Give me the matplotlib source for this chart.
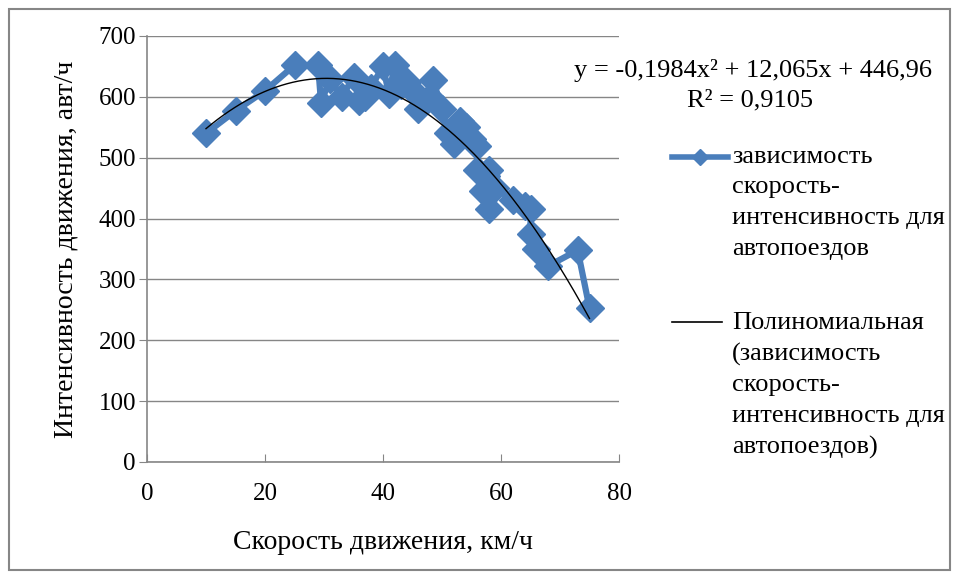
import numpy as np
import matplotlib.pyplot as plt
from matplotlib.lines import Line2D
from matplotlib.patches import Rectangle

plt.rcParams['font.family'] = ['Liberation Serif', 'DejaVu Serif']

# скорость (км/ч) и интенсивность (авт/ч) в порядке наблюдений
speed = [10, 15, 20, 25, 29, 29.5, 31, 33, 35, 36, 38, 37, 40, 41, 42, 43,
         44, 45, 46, 48, 48.5, 50, 51, 52, 53, 54, 55, 56, 56, 57, 58, 57.5,
         58, 59, 62, 64, 65, 65, 66, 68, 73, 75]
flow = [540, 577, 610, 652, 652, 590, 630, 600, 632, 593, 615, 600, 650, 605,
        652, 620, 625, 610, 580, 600, 627, 580, 540, 522, 560, 550, 530, 520,
        480, 445, 415, 470, 480, 450, 430, 420, 415, 375, 350, 322, 348, 253]

# полиномиальный тренд второй степени
coef = [-0.1984, 12.065, 446.96]
eq_text = 'y = -0,1984x² + 12,065x + 446,96'
r2_text = 'R² = 0,9105'

x_ticks = [0, 20, 40, 60, 80]
y_ticks = [0, 100, 200, 300, 400, 500, 600, 700]

series_label = 'зависимость\nскорость-\nинтенсивность для\nавтопоездов'
trend_label = 'Полиномиальная\n(зависимость\nскорость-\nинтенсивность для\nавтопоездов)'

blue = '#4a7ebb'
grid_col = '#868686'
W, H = 958, 577

fig = plt.figure(figsize=(W / 100, H / 100), dpi=100)
ax = fig.add_axes([147 / W, 1 - 462 / H, 472 / W, 426 / H])

ax.plot(speed, flow, color=blue, lw=4.5, marker='D', ms=14, mfc=blue,
        mec=blue, zorder=3)

xs = np.linspace(min(speed), max(speed), 200)
ax.plot(xs, np.polyval(coef, xs), color='black', lw=1, zorder=4)

ax.set_xlim(0, 80)
ax.set_ylim(0, 700)
ax.set_xticks(x_ticks)
ax.set_yticks(y_ticks)
ax.grid(axis='y', color=grid_col, lw=1)
ax.set_axisbelow(True)
for s in ['top', 'right']:
    ax.spines[s].set_visible(False)
for s in ['left', 'bottom']:
    ax.spines[s].set_color(grid_col)
    ax.spines[s].set_linewidth(1.2)
ax.tick_params(axis='y', direction='out', length=6, color=grid_col,
               labelsize=18, pad=2)
ax.tick_params(axis='x', direction='in', length=6, color=grid_col,
               labelsize=18, pad=15)

ax.set_xlabel('Скорость движения, км/ч', fontsize=20, labelpad=18)
ax.set_ylabel('Интенсивность движения, авт/ч', fontsize=20, labelpad=14)

fig.text(753 / W, 1 - 70 / H, eq_text, fontsize=19, ha='center', va='center')
fig.text(750 / W, 1 - 100 / H, r2_text, fontsize=19, ha='center', va='center')

# легенда справа от области построения
fig.add_artist(Line2D([672 / W, 728 / W], [1 - 157 / H] * 2, color=blue,
                      lw=4, transform=fig.transFigure))
fig.add_artist(Line2D([700 / W], [1 - 157 / H], color=blue, marker='D',
                      ms=8, lw=0, transform=fig.transFigure))
fig.add_artist(Line2D([672 / W, 722 / W], [1 - 322 / H] * 2, color='black',
                      lw=1.2, transform=fig.transFigure))
fig.text(732 / W, 1 - 146 / H, series_label, fontsize=19, ha='left',
         va='top', linespacing=1.5)
fig.text(732 / W, 1 - 312 / H, trend_label, fontsize=19, ha='left',
         va='top', linespacing=1.5)

fig.patches.append(Rectangle((9 / W, 7 / H), 941 / W, 561 / H, fill=False,
                             edgecolor=grid_col, lw=1.5,
                             transform=fig.transFigure))

fig.savefig('out.png', dpi=100)
